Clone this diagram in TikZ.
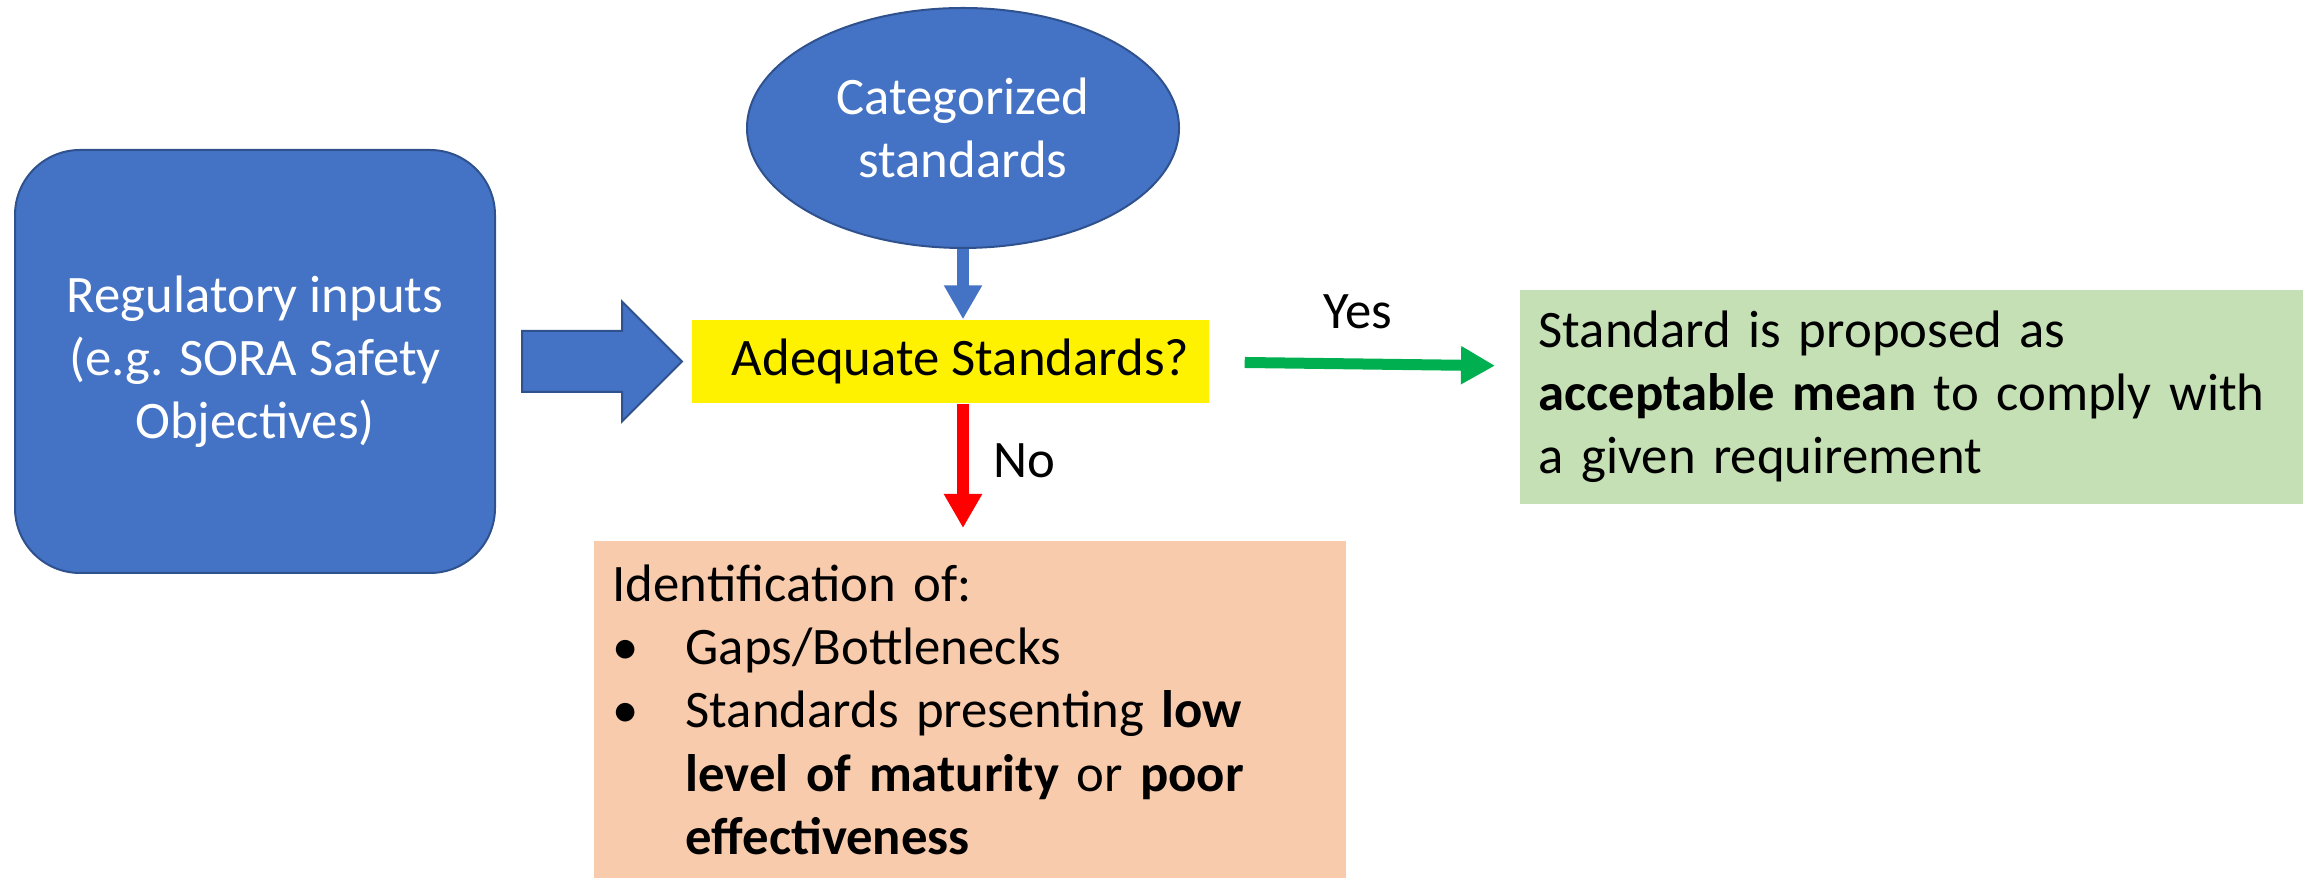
\documentclass[tikz,border=0pt]{standalone}
\usepackage{fontspec}
\setmainfont{Carlito}
\usepackage{xcolor}
\usepackage{tikz}
\usetikzlibrary{arrows.meta,positioning,calc,shapes.geometric,shapes.arrows}
\definecolor{boxblue}{HTML}{4472C4}
\definecolor{lineblue}{HTML}{2F528F}
\definecolor{okgreen}{HTML}{00B050}
\definecolor{lightgreen}{HTML}{C5E0B4}
\definecolor{lightorange}{HTML}{F8CBAD}
\tikzstyle{txt} = [font=\fontsize{15}{18}\selectfont]
\tikzset{flow/.style = {
    line width=1.2mm,
    -{Triangle[width=3.6mm,length=3.4mm]},
  }
}

\begin{document}
\begin{tikzpicture}[x=0.1mm, y=-0.1mm]
          % vertices
          \tikzstyle{bluebox} = [rectangle, draw=lineblue, fill=boxblue, line width=0.2mm, text=white, txt, align=center, inner sep=0pt]
          \tikzstyle{resultbox} = [rectangle, txt, align=left, inner xsep=1.9mm, inner ysep=0pt, anchor=north west]
          \tikzstyle{choice} = [txt, text=black, inner sep=0pt]

          \useasboundingbox (0,0) rectangle (2310,878);

          \node[bluebox, rounded corners=6.5mm, minimum width=48mm, minimum height=42.3mm] (inputs) at (255,361.5) {Regulatory inputs\\(e.g. SORA Safety\\Objectives)};
          \node[bluebox, ellipse, minimum width=43.2mm, minimum height=24mm] (catstd) at (963,128) {Categorized\\standards};
          \node[rectangle, fill=yellow, txt, minimum width=51.7mm, minimum height=8.3mm, inner sep=0pt] (adequate) at (950.5,361.5) {\hspace*{2mm}Adequate Standards?};
          \node[bluebox, single arrow, inner ysep=2.95mm, minimum height=16mm, single arrow head extend=2.95mm, right=2.5mm of inputs] (feed) {};

          \node[resultbox, fill=lightgreen, text width=74.5mm, minimum height=21.4mm] (accept) at (1519,289) {Standard is proposed as\\\textbf{acceptable mean} to comply with\\a given requirement};
          \node[resultbox, fill=lightorange, text width=71.4mm, minimum height=33.8mm] (gaps) at (593,540) {Identification of:\\
            \makebox[7.3mm][l]{\textbullet}Gaps/Bottlenecks\\
            \makebox[7.3mm][l]{\textbullet}\parbox[t]{63mm}{Standards presenting \textbf{low}\\\textbf{level of maturity} or \textbf{poor}\\\textbf{effectiveness}}};

          % edges
          \draw[flow, boxblue] (catstd.south) -- (catstd.south |- adequate.north);
          \draw[flow, red, shorten >=1.2mm] (catstd.south |- adequate.south) -- (catstd.south |- gaps.north) node[choice, midway, right=2.4mm, yshift=1.1mm] {No};
          \draw[flow, okgreen, line width=1.1mm] ($(adequate.east)+(35,1)$) -- ($(accept.west)+(-24,-31)$) node[choice, midway, above=3mm, xshift=-1.2mm] {Yes};
\end{tikzpicture}
\end{document}
